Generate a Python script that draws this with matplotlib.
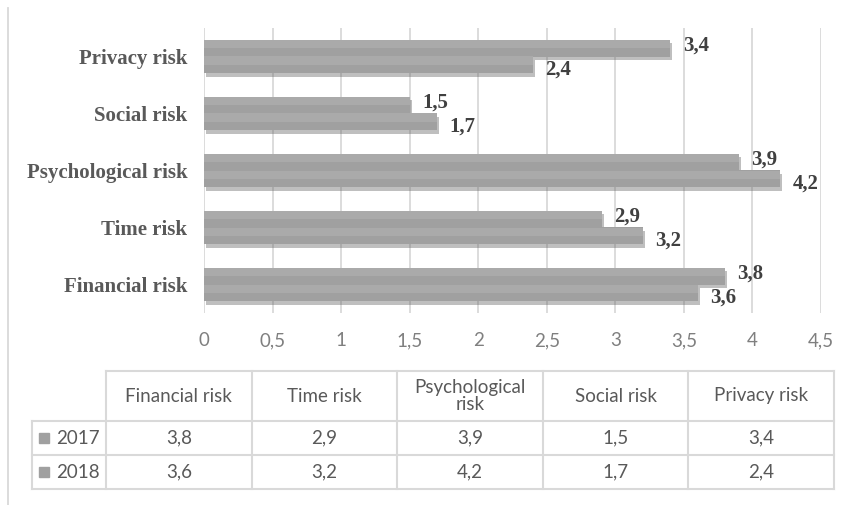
import numpy as np
import matplotlib
matplotlib.use("Agg")
import matplotlib.pyplot as plt
import matplotlib.patheffects as pe

categories = ["Financial risk", "Time risk", "Psychological risk", "Social risk", "Privacy risk"]
header_labels = ["Financial risk", "Time risk", "Psychological\nrisk", "Social risk", "Privacy risk"]
years = ["2017", "2018"]
v2017 = [3.8, 2.9, 3.9, 1.5, 3.4]
v2018 = [3.6, 3.2, 4.2, 1.7, 2.4]
xticks = np.arange(0, 4.51, 0.5)


def fmt(v):
    # decimal comma, like the source
    s = ("%.1f" % v).rstrip("0").rstrip(".")
    return s.replace(".", ",")


W, H = 854, 505
fg = plt.figure(figsize=(W / 100, H / 100), dpi=100)

GRID = "#D9D9D9"
BAR = "#A0A0A0"
LABEL = "#404040"
CAT = "#595959"
TICK = "#7F7F7F"
SANS = ["Lato", "DejaVu Sans"]
SERIF = ["Liberation Serif", "DejaVu Serif"]

# main bar axes, placed in pixels
x0, x1, y0, y1 = 204, 821, 28, 313
ax = fg.add_axes([x0 / W, 1 - y1 / H, (x1 - x0) / W, (y1 - y0) / H])
y = np.arange(len(categories))
h = 0.29
shadow = [pe.SimplePatchShadow(offset=(1.5, -2.5), alpha=0.4, shadow_rgbFace="#606060"), pe.Normal()]
ax.barh(y + h / 2, v2017, height=h, color=BAR, zorder=3, path_effects=shadow)
ax.barh(y - h / 2, v2018, height=h, color=BAR, zorder=3, path_effects=shadow)
# lighter upper band to mimic the gradient fill
ax.barh(y + h / 2 + h / 4, v2017, height=h / 2, color="#AAAAAA", zorder=4)
ax.barh(y - h / 2 + h / 4, v2018, height=h / 2, color="#AAAAAA", zorder=4)

for yi, v in zip(y, v2017):
    ax.annotate(fmt(v), (v, yi + h / 2 + 0.05), xytext=(9, 0), textcoords="offset points",
                va="center", ha="left", fontsize=15, fontweight="bold", color=LABEL, family=SERIF)
for yi, v in zip(y, v2018):
    ax.annotate(fmt(v), (v, yi - h / 2 - 0.08), xytext=(9, 0), textcoords="offset points",
                va="center", ha="left", fontsize=15, fontweight="bold", color=LABEL, family=SERIF)

ax.set_xlim(0, 4.5)
ax.set_ylim(-0.5, len(categories) - 0.5)
ax.set_xticks(xticks)
ax.set_xticklabels([fmt(t) for t in xticks], family=SANS, fontsize=13.5, color=TICK)
ax.set_yticks(y)
ax.set_yticklabels(categories, family=SERIF, fontsize=15, fontweight="bold", color=CAT)
ax.tick_params(length=0)
ax.tick_params(axis="x", pad=14)
ax.tick_params(axis="y", pad=12)
ax.grid(axis="x", color=GRID, lw=1.3, zorder=0)
for s in ax.spines.values():
    s.set_visible(False)

# overlay in pixel coordinates for the data table and chart border
ov = fg.add_axes([0, 0, 1, 1], zorder=-1)
ov.set_xlim(0, W)
ov.set_ylim(H, 0)
ov.axis("off")
ov.plot([8, 8], [8, H], color=GRID, lw=1.3)

cols = np.linspace(106, 834, len(categories) + 1)
rows = [371, 421, 455, 489]
lw = 1.5
ov.plot([cols[0], cols[-1]], [rows[0], rows[0]], color=GRID, lw=lw)
for r in rows[1:]:
    ov.plot([32, cols[-1]], [r, r], color=GRID, lw=lw)
ov.plot([32, 32], [rows[1], rows[-1]], color=GRID, lw=lw)
for c in cols:
    ov.plot([c, c], [rows[0], rows[-1]], color=GRID, lw=lw)

for i, lab in enumerate(header_labels):
    cx = (cols[i] + cols[i + 1]) / 2
    ov.text(cx, (rows[0] + rows[1]) / 2, lab, ha="center", va="center", family=SANS,
            fontsize=13.5, color=CAT, linespacing=1.0)
for j, (yr, vals) in enumerate(zip(years, [v2017, v2018])):
    cy = (rows[j + 1] + rows[j + 2]) / 2
    ov.plot([44], [cy], marker="s", ms=6.5, color=BAR, ls="none")
    ov.text(56, cy, yr, ha="left", va="center", family=SANS, fontsize=13.5, color=CAT)
    for i, v in enumerate(vals):
        cx = (cols[i] + cols[i + 1]) / 2
        ov.text(cx, cy, fmt(v), ha="center", va="center", family=SANS, fontsize=13.5, color=CAT)

fg.savefig("out.png", dpi=100)
